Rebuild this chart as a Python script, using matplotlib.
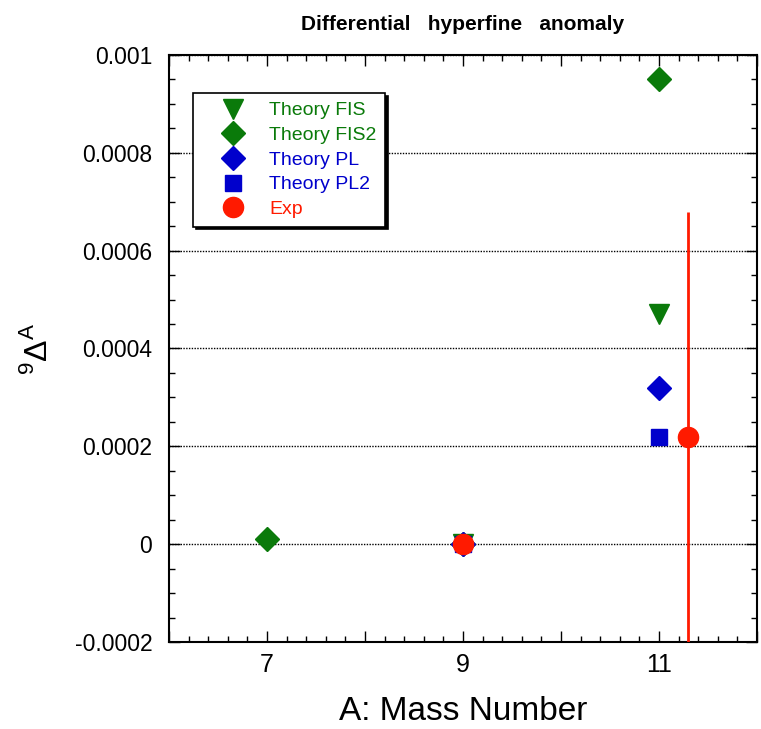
import matplotlib
matplotlib.use("Agg")
import matplotlib.pyplot as plt
from matplotlib.ticker import MultipleLocator, FixedLocator, FixedFormatter

plt.rcParams['font.family'] = ['Liberation Sans', 'DejaVu Sans']
plt.rcParams['mathtext.fontset'] = 'custom'
plt.rcParams['mathtext.rm'] = 'Liberation Sans'

# Data
fis_x = [9, 11]
fis_y = [0.0, 0.00047]
fis2_x = [7, 9, 11]
fis2_y = [0.00001, 0.0, 0.00095]
pl_x = [9, 11]
pl_y = [0.0, 0.00032]
pl2_x = [9, 11]
pl2_y = [0.0, 0.00022]
exp_x = [9, 11.3]
exp_y = [0.0, 0.00022]
exp_err = [0.0, 0.00046]

x_major = [6, 7, 8, 9, 10, 11, 12]
x_labels = ['', '7', '', '9', '', '11', '']
y_ticks = [-0.0002, 0, 0.0002, 0.0004, 0.0006, 0.0008, 0.001]
y_labels = ['-0.0002', '0', '0.0002', '0.0004', '0.0006', '0.0008', '0.001']

fig = plt.figure(figsize=(7.61, 7.29), dpi=100)
ax = fig.add_axes([0.2221, 0.1193, 0.7726, 0.8053])

green = '#0a7a0a'
blue = '#0000cc'
red = '#ff1a00'

ax.errorbar(exp_x, exp_y, yerr=exp_err, fmt='none', ecolor=red, elinewidth=2, capsize=0, zorder=3)
ax.plot(fis_x, fis_y, 'v', color=green, markersize=14, linestyle='none', label='Theory FIS', zorder=4)
ax.plot(fis2_x, fis2_y, 'D', color=green, markersize=12, linestyle='none', label='Theory FIS2', zorder=4)
ax.plot(pl_x, pl_y, 'D', color=blue, markersize=12, linestyle='none', label='Theory PL', zorder=4)
ax.plot(pl2_x, pl2_y, 's', color=blue, markersize=12, linestyle='none', label='Theory PL2', zorder=4)
ax.plot(exp_x, exp_y, 'o', color=red, markersize=14.5, linestyle='none', label='Exp', zorder=5)

ax.set_xlim(6, 12)
ax.set_ylim(-0.0002, 0.001)
ax.xaxis.set_major_locator(FixedLocator(x_major))
ax.xaxis.set_major_formatter(FixedFormatter(x_labels))
ax.xaxis.set_minor_locator(MultipleLocator(0.2))
ax.yaxis.set_major_locator(FixedLocator(y_ticks))
ax.yaxis.set_major_formatter(FixedFormatter(y_labels))
ax.yaxis.set_minor_locator(MultipleLocator(0.00005))

ax.tick_params(which='both', direction='in', top=True, right=True, width=1)
ax.tick_params(which='major', length=8)
ax.tick_params(which='minor', length=4.5)
ax.tick_params(axis='y', which='major', labelsize=16.5, pad=12)
ax.tick_params(axis='x', which='major', labelsize=18, pad=8)

for s in ax.spines.values():
    s.set_linewidth(1.5)

ax.grid(axis='y', which='major', linestyle=(0, (1, 1)), color='black', linewidth=1, zorder=1)
ax.set_axisbelow(True)

ax.set_xlabel('A: Mass Number', fontsize=24)
ax.xaxis.set_label_coords(0.5, -0.092)
ax.set_ylabel(r'$^{\mathrm{9}}\Delta^{\mathrm{A}}$', fontsize=23)
ax.yaxis.set_label_coords(-0.195, 0.5)
ax.set_title('Differential   hyperfine   anomaly', fontsize=15, fontweight='bold', pad=18)

leg = ax.legend(loc='upper left', bbox_to_anchor=(0.041, 0.935), fontsize=14,
                frameon=True, fancybox=False, shadow={'color': 'black', 'alpha': 1.0},
                edgecolor='black', borderpad=0.45, labelspacing=0.36, handletextpad=0.25,
                borderaxespad=0, markerscale=1.0, handlelength=3.2)
leg.get_frame().set_linewidth(1.2)
cols = [green, green, blue, blue, red]
for t, c in zip(leg.get_texts(), cols):
    t.set_color(c)

fig.savefig('out.png', dpi=100)
